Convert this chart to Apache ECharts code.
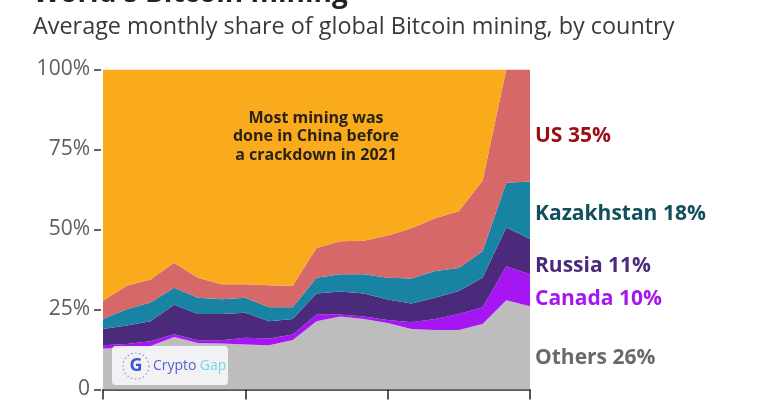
<!DOCTYPE html>
<html>
<head>
<meta charset="utf-8">
<script src="https://cdn.jsdelivr.net/npm/echarts@6/dist/echarts.min.js"></script>
<style>
  html, body { margin: 0; padding: 0; background: #fff; }
  #chart { width: 770px; height: 400px; }
</style>
</head>
<body>
<div id="chart"></div>
<script>
  // months (axis labels are cut off in the picture)
  const months = ['Feb 2020', 'Mar 2020', 'Apr 2020', 'May 2020', 'Jun 2020', 'Jul 2020',
    'Aug 2020', 'Sep 2020', 'Oct 2020', 'Nov 2020', 'Dec 2020', 'Jan 2021', 'Feb 2021',
    'Mar 2021', 'Apr 2021', 'May 2021', 'Jun 2021', 'Jul 2021', 'Aug 2021'];

  // share of global mining, % (stacked bottom to top)
  const others     = [12.8, 13.0, 13.6, 16.4, 14.5, 14.4, 14.1, 13.8, 15.5, 21.3, 22.8, 22.0, 20.8, 18.9, 18.6, 18.6, 20.5, 27.9, 26];
  const canada     = [1.0, 1.2, 1.5, 0.9, 0.9, 1.0, 2.1, 2.1, 1.7, 2.1, 0.6, 0.8, 0.9, 2.1, 3.4, 5.0, 5.2, 10.6, 10];
  const russia     = [5.1, 5.8, 6.2, 9.2, 8.2, 8.2, 7.8, 5.4, 4.8, 6.6, 7.2, 7.2, 6.4, 5.9, 6.7, 7.2, 9.2, 12.1, 11];
  const kazakhstan = [3.1, 5.1, 5.9, 5.3, 5.1, 4.6, 4.7, 4.4, 3.7, 4.9, 5.4, 6.0, 6.8, 7.8, 8.3, 7.2, 8.3, 14.0, 18];
  const us         = [5.7, 7.3, 7.2, 7.8, 6.2, 4.7, 4.2, 6.9, 6.7, 9.3, 10.3, 10.5, 13.2, 15.7, 16.5, 17.7, 22.0, 35.4, 35];
  const china      = [72.3, 67.6, 65.6, 60.4, 65.1, 67.1, 67.1, 67.4, 67.6, 55.8, 53.7, 53.5, 51.9, 49.6, 46.5, 44.3, 34.8, 0, 0];

  const yTicks = [0, 25, 50, 75, 100];

  const FONT = '"Open Sans", "Noto Sans", sans-serif';

  const chartObj = echarts.init(document.getElementById('chart'));

  function layer(name, data, color) {
    return {
      name: name,
      type: 'line',
      stack: 'share',
      data: data,
      symbol: 'none',
      lineStyle: { width: 0 },
      areaStyle: { color: color, opacity: 1 },
      silent: true
    };
  }

  const last = arr => Math.round(arr[arr.length - 1]);

  function sideLabel(text, y, color) {
    return {
      type: 'text', left: 535, top: y - 9, z: 100,
      style: { text: text, fill: color, font: 'bold 21px ' + FONT }
    };
  }

  chartObj.setOption({
    animation: false,
    grid: { left: 103, right: 240, top: 69.5, bottom: 7 },
    xAxis: {
      type: 'category',
      data: months,
      boundaryGap: false,
      axisLine: { lineStyle: { color: '#222', width: 1.5 } },
      axisTick: { show: true, interval: 5, length: 10, lineStyle: { color: '#222', width: 1.5 } },
      axisLabel: { show: false },
      splitLine: { show: false }
    },
    yAxis: {
      type: 'value',
      min: yTicks[0],
      max: yTicks[yTicks.length - 1],
      interval: 25,
      offset: 2,
      axisLine: { show: false },
      axisTick: { show: true, length: 7, lineStyle: { color: '#333', width: 1.5 } },
      splitLine: { show: false },
      axisLabel: {
        margin: 11,
        color: '#5e5e5e',
        fontFamily: FONT,
        fontSize: 21,
        formatter: v => v === 0 ? '0' : v + '%'
      }
    },
    series: [
      layer('Others', others, '#bdbdbd'),
      layer('Canada', canada, '#a516f2'),
      layer('Russia', russia, '#4b2a7c'),
      layer('Kazakhstan', kazakhstan, '#1883a3'),
      layer('US', us, '#d6686a'),
      layer('China', china, '#faab1c')
    ],
    graphic: [
      {
        type: 'text', left: 33, top: -20, z: 100,
        style: { text: "World's Bitcoin mining", fill: '#222', font: 'bold 28px ' + FONT }
      },
      {
        type: 'text', left: 33, top: 16, z: 100,
        style: { text: 'Average monthly share of global Bitcoin mining, by country', fill: '#3a3a3a', font: '23.4px ' + FONT }
      },
      {
        type: 'text', x: 316, y: 109, z: 100,
        style: {
          text: 'Most mining was\ndone in China before\na crackdown in 2021',
          fill: '#2a2218', font: 'bold 16px ' + FONT, align: 'center', lineHeight: 18.5
        }
      },
      sideLabel('US ' + last(us) + '%', 135, '#9a0f17'),
      sideLabel('Kazakhstan ' + last(kazakhstan) + '%', 213, '#124f5c'),
      sideLabel('Russia ' + last(russia) + '%', 265, '#4b2a7c'),
      sideLabel('Canada ' + last(canada) + '%', 298, '#a516f2'),
      sideLabel('Others ' + last(others) + '%', 357, '#6a6a6a'),
      // watermark box
      {
        type: 'group', left: 112, top: 346, z: 100,
        children: [
          { type: 'rect', z: 100, shape: { x: 0, y: 0, width: 116, height: 39, r: 4 }, style: { fill: 'rgba(246,246,248,0.92)' } },
          { type: 'circle', z: 101, shape: { cx: 24, cy: 20, r: 13 }, style: { fill: 'none', stroke: '#8f8fe0', lineWidth: 1.2, lineDash: [1.5, 2.5] } },
          { type: 'text', z: 101, x: 24, y: 20, style: { text: 'G', fill: '#3b56d6', font: 'bold 18px ' + FONT, align: 'center', verticalAlign: 'middle' } },
          {
            type: 'text', z: 101, x: 41, y: 20,
            style: {
              text: '{a|Crypto} {b|Gap}', verticalAlign: 'middle',
              rich: {
                a: { fill: '#5560cc', font: '14px ' + FONT },
                b: { fill: '#79d3e6', font: '14px ' + FONT }
              }
            }
          }
        ]
      }
    ]
  });
</script>
</body>
</html>
